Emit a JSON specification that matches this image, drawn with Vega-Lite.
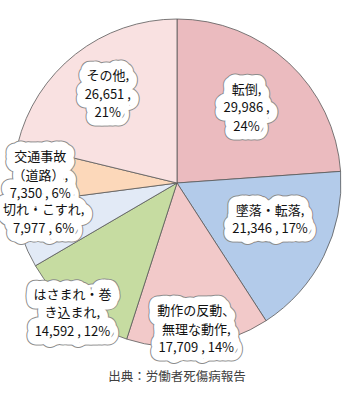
{
  "$schema": "https://vega.github.io/schema/vega-lite/v6.json",
  "width": 354,
  "height": 366,
  "autosize": "none",
  "padding": {"left": 0, "top": 0, "right": 9, "bottom": 39},
  "background": "white",
  "title": {
    "text": "出典：労働者死傷病報告",
    "orient": "bottom",
    "anchor": "middle",
    "offset": 5,
    "font": "Noto Sans CJK JP",
    "fontSize": 12.5,
    "fontWeight": "normal",
    "color": "#404040"
  },
  "data": {
    "values": [
      {"i": 1, "cat": "転倒", "value": 29986, "label": "転倒,|29,986 ,|24%"},
      {"i": 2, "cat": "墜落・転落", "value": 21346, "label": "墜落・転落,|21,346 , 17%"},
      {"i": 3, "cat": "動作の反動、無理な動作", "value": 17709, "label": "動作の反動、|無理な動作,|17,709 , 14%"},
      {"i": 4, "cat": "はさまれ・巻き込まれ", "value": 14592, "label": "はさまれ・巻|き込まれ,|14,592 , 12%"},
      {"i": 5, "cat": "切れ・こすれ", "value": 7977, "label": "切れ・こすれ,|7,977 , 6%"},
      {"i": 6, "cat": "交通事故（道路）", "value": 7350, "label": "交通事故|（道路）,|7,350 , 6%"},
      {"i": 7, "cat": "その他", "value": 26651, "label": "その他,|26,651 ,|21%"}
    ]
  },
  "encoding": {
    "theta": {"field": "value", "type": "quantitative", "stack": true},
    "order": {"field": "i", "type": "quantitative"}
  },
  "layer": [
    {
      "mark": {"type": "arc", "outerRadius": 164, "stroke": "#595959", "strokeWidth": 0.8},
      "encoding": {
        "color": {
          "field": "cat",
          "type": "nominal",
          "legend": null,
          "scale": {
            "domain": ["転倒", "墜落・転落", "動作の反動、無理な動作", "はさまれ・巻き込まれ", "切れ・こすれ", "交通事故（道路）", "その他"],
            "range": ["#ebbbbf", "#b3cbea", "#f2c9c9", "#c6dca1", "#e2eaf6", "#fcd8ba", "#f9e1e1"]
          }
        }
      }
    },
    {
      "mark": {
        "type": "text",
        "font": "Noto Sans CJK JP",
        "fontSize": 13,
        "lineHeight": 18.5,
        "lineBreak": "|",
        "align": "center",
        "baseline": "middle",
        "dy": -18.5,
        "fill": "#8c8c8c",
        "stroke": "#8c8c8c",
        "strokeWidth": 19,
        "strokeJoin": "round",
        "strokeCap": "round"
      },
      "encoding": {
        "text": {"field": "label", "type": "nominal"},
        "radius": {
          "field": "value",
          "type": "quantitative",
          "scale": {"type": "linear", "clamp": true, "domain": [7350, 7977, 14592, 17709, 21346, 26651, 29986], "range": [137, 141, 167, 148, 104, 112, 102]}
        }
      }
    },
    {
      "mark": {
        "type": "text",
        "font": "Noto Sans CJK JP",
        "fontSize": 13,
        "lineHeight": 18.5,
        "lineBreak": "|",
        "align": "center",
        "baseline": "middle",
        "dy": -18.5,
        "fill": "white",
        "stroke": "white",
        "strokeWidth": 17,
        "strokeJoin": "round",
        "strokeCap": "round"
      },
      "encoding": {
        "text": {"field": "label", "type": "nominal"},
        "radius": {"field": "value", "type": "quantitative"}
      }
    },
    {
      "mark": {
        "type": "text",
        "font": "Noto Sans CJK JP",
        "fontSize": 13,
        "lineHeight": 18.5,
        "lineBreak": "|",
        "align": "center",
        "baseline": "middle",
        "dy": -18.5,
        "color": "#111111"
      },
      "encoding": {
        "text": {"field": "label", "type": "nominal"},
        "radius": {"field": "value", "type": "quantitative"}
      }
    }
  ]
}
